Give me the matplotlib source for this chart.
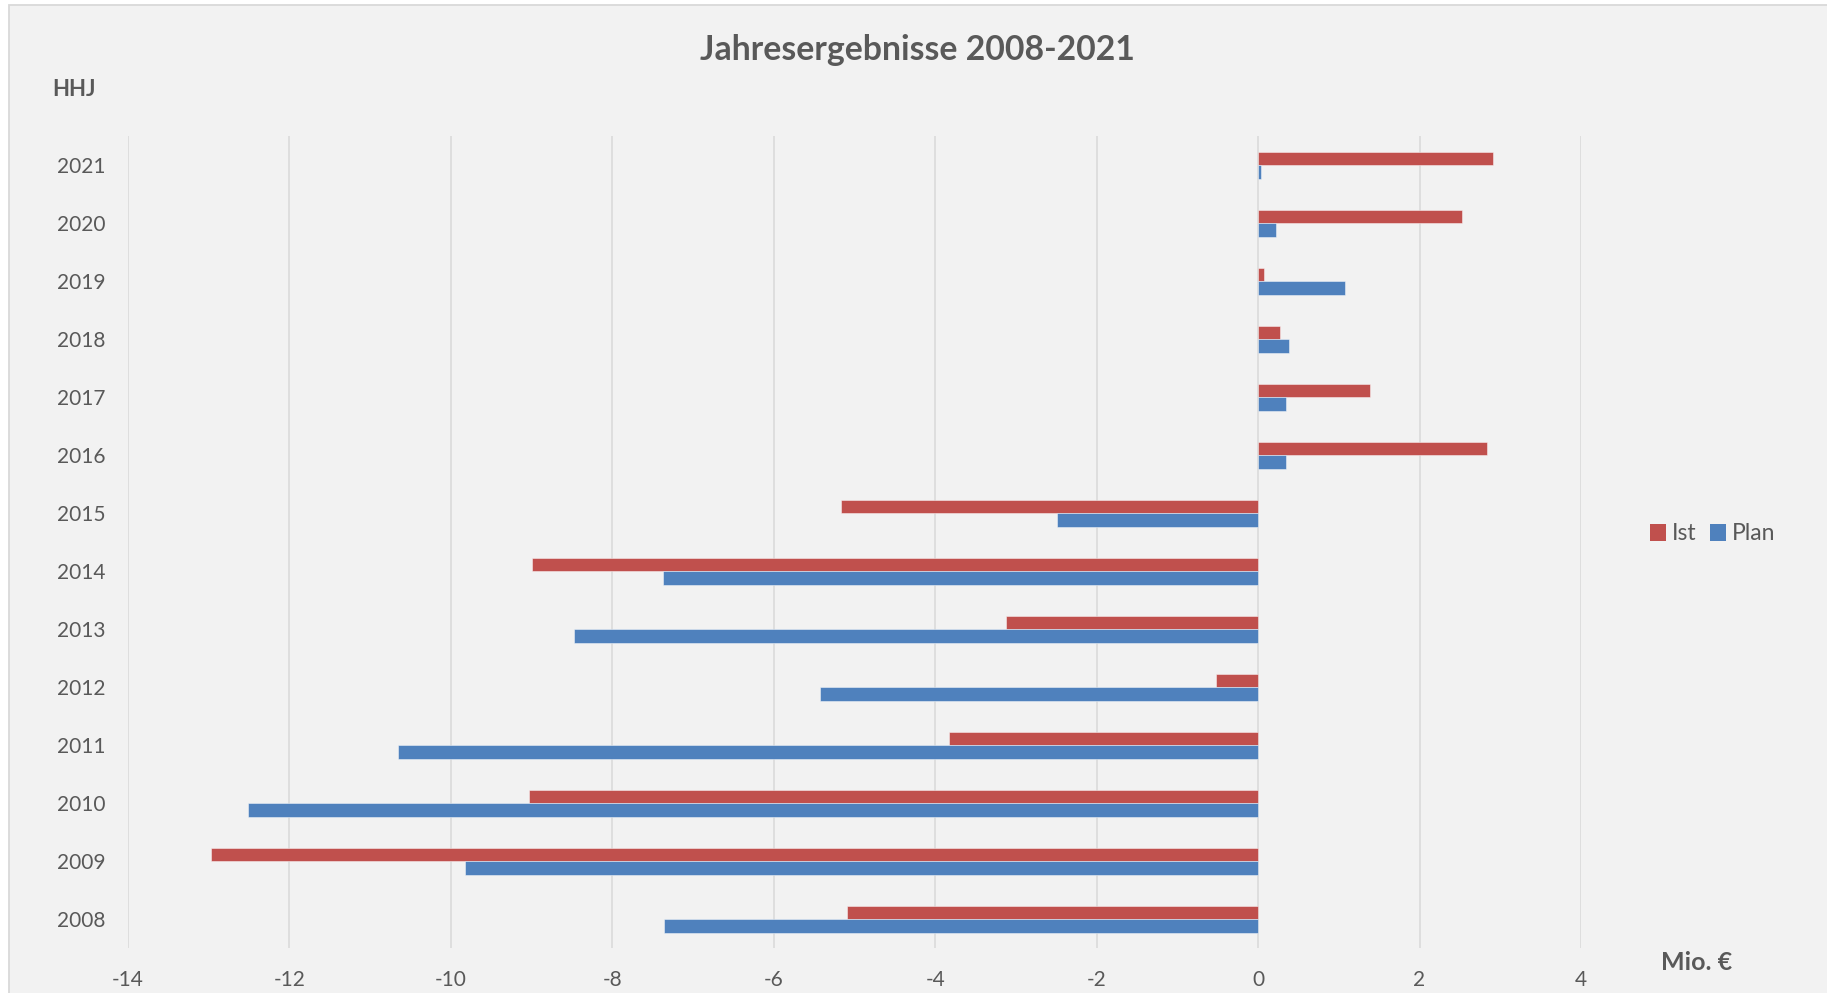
import matplotlib
matplotlib.use("Agg")
import matplotlib.pyplot as plt
from matplotlib.patches import Rectangle, Patch
import numpy as np

plt.rcParams['font.family'] = ['Lato', 'DejaVu Sans']

# Jahresergebnisse in Mio. €
years = ['2008', '2009', '2010', '2011', '2012', '2013', '2014',
         '2015', '2016', '2017', '2018', '2019', '2020', '2021']
ist = [-5.09, -12.97, -9.03, -3.83, -0.52, -3.12, -8.99,
       -5.17, 2.835, 1.39, 0.27, 0.078, 2.53, 2.905]
plan = [-7.36, -9.83, -12.51, -10.65, -5.43, -8.48, -7.37,
        -2.49, 0.34, 0.35, 0.386, 1.08, 0.216, 0.037]
x_ticks = [-14, -12, -10, -8, -6, -4, -2, 0, 2, 4]

RED = '#C0504D'
BLUE = '#4F81BD'
TXT = '#595959'
GRID = '#D9D9D9'
BG = '#F2F2F2'

W, H = 1827, 993
fig = plt.figure(figsize=(W / 100, H / 100), dpi=100)
fig.patch.set_facecolor('white')

# chart area with thin border
fig.add_artist(Rectangle((9 / W, -0.02), 1.05, 1 - 5 / H + 0.02,
                         transform=fig.transFigure, facecolor=BG,
                         edgecolor=GRID, linewidth=1.3, zorder=-10))

ax = fig.add_axes([128 / W, 1 - 948.2 / H, (1581 - 128) / W, (948.2 - 136.4) / H])
ax.set_facecolor(BG)

y = np.arange(len(years))
h = 0.236
edge = (1, 1, 1, 0.45)
ax.barh(y + h / 2, ist, height=h, color=RED, edgecolor=edge, linewidth=0.7,
        label='Ist', zorder=3)
ax.barh(y - h / 2, plan, height=h, color=BLUE, edgecolor=edge, linewidth=0.7,
        label='Plan', zorder=3)

ax.set_xlim(-14, 4)
ax.set_ylim(-0.5, len(years) - 0.5)
ax.set_xticks(x_ticks)
ax.set_xticklabels([str(v) for v in x_ticks])
ax.set_yticks(y)
ax.set_yticklabels(years)
ax.xaxis.grid(True, color=GRID, linewidth=1.1, zorder=0)
ax.set_axisbelow(True)
for s in ax.spines.values():
    s.set_visible(False)
ax.tick_params(axis='both', length=0, labelsize=15, labelcolor=TXT)
ax.tick_params(axis='x', pad=16)
ax.tick_params(axis='y', pad=16)

fig.text(917 / W, 1 - 50 / H, 'Jahresergebnisse 2008-2021', ha='center',
         va='center', fontsize=24.3, fontweight='bold', color=TXT)
fig.text(52 / W, 1 - 90 / H, 'HHJ', ha='left', va='center',
         fontsize=16, fontweight='bold', color=TXT)
fig.text(1732 / W, 1 - 962 / H, 'Mio. €', ha='right', va='center',
         fontsize=18, fontweight='bold', color=TXT)

handles = [Patch(facecolor=RED, label='Ist'), Patch(facecolor=BLUE, label='Plan')]
fig.legend(handles=handles, loc='center', bbox_to_anchor=(1713 / W, 1 - 534 / H),
           ncol=2, frameon=False, fontsize=16.5, labelcolor=TXT,
           handlelength=0.7, handleheight=0.7, handletextpad=0.25,
           columnspacing=0.6)

fig.savefig('out.png', dpi=100, facecolor=fig.get_facecolor())
